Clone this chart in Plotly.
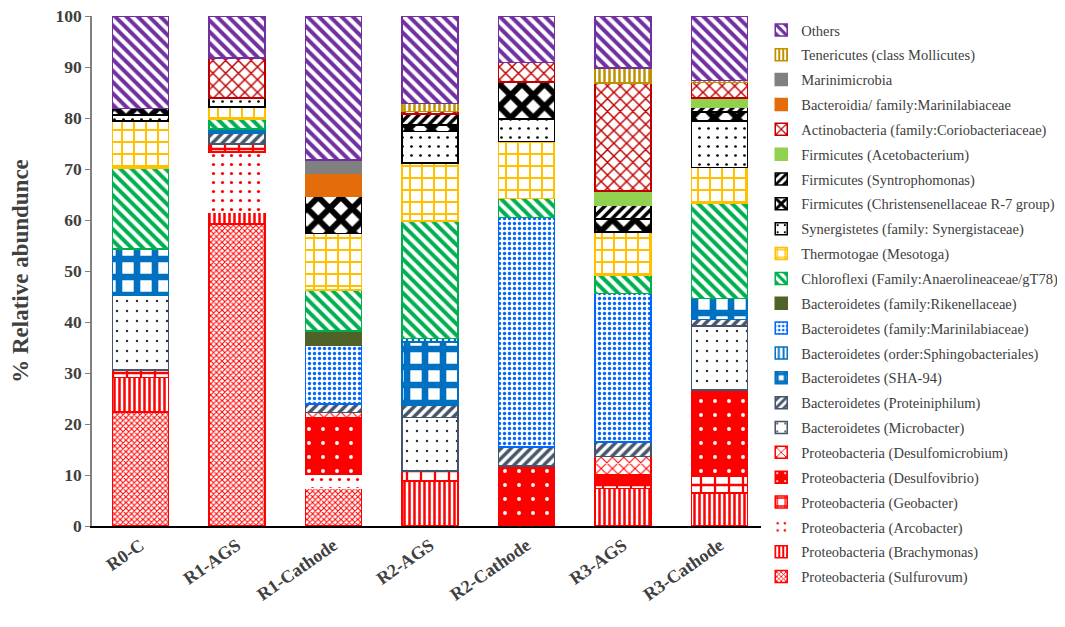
import plotly.graph_objects as go

samples = ["R0-C", "R1-AGS", "R1-Cathode", "R2-AGS", "R2-Cathode", "R3-AGS", "R3-Cathode"]

# segment sizes (% relative abundance), bottom of stack first
sulfurovum        = [22.4, 59.2, 7.4, None, None, None, None]
brachymonas       = [6.7, 2.3, None, 8.8, None, 7.4, 6.5]
arcobacter        = [None, 11.8, 2.7, None, None, None, None]
geobacter         = [1.5, 1.6, None, 2.0, None, 1.0, 3.3]
desulfovibrio     = [None, None, 11.2, None, 11.8, 1.7, 16.9]
desulfomicrobium  = [None, None, 1.0, None, None, 3.5, None]
microbacter       = [14.6, None, None, 10.5, None, None, 12.5]
proteiniphilum    = [None, 2.2, 1.6, 2.4, 3.7, 2.9, 1.3]
sha94             = [9.1, 0.7, None, 12.4, None, None, 4.1]
sphingobacteriales= [None, None, None, 0.7, None, None, None]
marinilabiaceae   = [None, None, 11.6, None, 45.0, 29.1, None]
rikenellaceae     = [None, None, 2.7, None, None, None, None]
chloroflexi       = [15.9, 2.0, 8.1, 23.0, 3.7, 3.6, 18.6]
thermotogae       = [9.2, 2.4, 11.1, 11.4, 11.2, 8.4, 7.1]
synergistetes     = [1.2, 1.7, None, 6.2, 4.4, None, 9.1]
christensenella   = [1.3, None, 7.3, 1.2, 7.3, 2.6, 1.8]
syntrophomonas    = [None, None, None, 2.2, None, 2.7, 0.9]
acetobacterium    = [None, None, None, None, None, 2.8, 1.8]
actinobacteria    = [None, 7.9, None, 0.5, 3.8, 21.2, 3.1]
bacteroidia       = [None, None, 4.5, None, None, None, None]
marinimicrobia    = [None, None, 2.6, None, None, None, None]
tenericutes       = [None, None, None, 1.5, None, 2.9, 0.4]
others            = [18.1, 8.2, 28.2, 17.2, 9.1, 10.2, 12.6]

y_ticks = [0, 10, 20, 30, 40, 50, 60, 70, 80, 90, 100]

# name, values, bg colour, fg colour, pattern shape, line colour, pattern size, solidity
series = [
    ("Proteobacteria (Sulfurovum)", sulfurovum, "white", "#FF0000", "x", "#FF0000", 4, 0.45),
    ("Proteobacteria (Brachymonas)", brachymonas, "white", "#FF0000", "|", "#FF0000", 5, 0.5),
    ("Proteobacteria (Arcobacter)", arcobacter, "white", "#FF0000", ".", "#FFFFFF", 9, 0.1),
    ("Proteobacteria (Geobacter)", geobacter, "white", "#FF0000", "+", "#FF0000", 14, 0.3),
    ("Proteobacteria (Desulfovibrio)", desulfovibrio, "#FF0000", "#FFFFFF", ".", "#FF0000", 14, 0.06),
    ("Proteobacteria (Desulfomicrobium)", desulfomicrobium, "white", "#FF0000", "x", "#FF0000", 8, 0.25),
    ("Bacteroidetes (Microbacter)", microbacter, "white", "#333333", ".", "#44546A", 10, 0.05),
    ("Bacteroidetes (Proteiniphilum)", proteiniphilum, "white", "#44546A", "/", "#44546A", 7, 0.5),
    ("Bacteroidetes (SHA-94)", sha94, "white", "#0070C0", "+", "#0070C0", 18, 0.6),
    ("Bacteroidetes (order:Sphingobacteriales)", sphingobacteriales, "white", "#0070C0", "|", "#0070C0", 6, 0.4),
    ("Bacteroidetes (family:Marinilabiaceae)", marinilabiaceae, "white", "#0066FF", ".", "#0066FF", 5, 0.35),
    ("Bacteroidetes (family:Rikenellaceae)", rikenellaceae, "#4F6228", "#4F6228", "", "#4F6228", 8, 0.3),
    ("Chloroflexi (Family:Anaerolineaceae/gT78)", chloroflexi, "white", "#00B050", "\\", "#00B050", 8, 0.5),
    ("Thermotogae (Mesotoga)", thermotogae, "white", "#FFC000", "+", "#FFC000", 12, 0.3),
    ("Synergistetes (family: Synergistaceae)", synergistetes, "white", "#000000", ".", "#000000", 9, 0.07),
    ("Firmicutes (Christensenellaceae R-7 group)", christensenella, "white", "#000000", "x", "#000000", 16, 0.6),
    ("Firmicutes (Syntrophomonas)", syntrophomonas, "white", "#000000", "/", "#000000", 7, 0.5),
    ("Firmicutes (Acetobacterium)", acetobacterium, "#92D050", "#92D050", "", "#92D050", 8, 0.3),
    ("Actinobacteria (family:Coriobacteriaceae)", actinobacteria, "white", "#C00000", "x", "#C00000", 9, 0.3),
    ("Bacteroidia/ family:Marinilabiaceae", bacteroidia, "#E46C0A", "#E46C0A", "", "#E46C0A", 8, 0.3),
    ("Marinimicrobia", marinimicrobia, "#808080", "#808080", "", "#808080", 8, 0.3),
    ("Tenericutes (class Mollicutes)", tenericutes, "white", "#BF9000", "|", "#BF9000", 5, 0.5),
    ("Others", others, "white", "#7030A0", "\\", "#7030A0", 8, 0.5),
]

fig = go.Figure()
n = len(series)
for i, (name, vals, bg, fg, shape, lc, sz, sol) in enumerate(series):
    fig.add_trace(go.Bar(
        name=name, x=samples, y=vals, legendgroup=name, legendrank=n - i,
        marker=dict(
            color=bg,
            line=dict(color=lc, width=1.5),
            pattern=dict(shape=shape, fgcolor=fg, bgcolor=bg, fillmode="overlay",
                         fgopacity=1, size=sz, solidity=sol),
        ),
    ))

serif = "Liberation Serif"
fig.update_layout(
    barmode="stack",
    bargap=0.42,
    width=1057, height=619,
    margin=dict(l=84, r=297, t=8, b=101, autoexpand=False),
    paper_bgcolor="white", plot_bgcolor="white",
    font=dict(family=serif, color="#404040"),
    legend=dict(
        x=0.99, y=1.004, xanchor="left", yanchor="top",
        traceorder="grouped", tracegroupgap=3.0,
        font=dict(family=serif, size=14.5, color="#404040"),
        itemwidth=30, maxheight=615,
    ),
    showlegend=True,
)
fig.update_yaxes(
    range=[0, 100], tickvals=y_ticks, ticks="outside", ticklen=5,
    tickcolor="#808080", showline=True, linecolor="#808080", linewidth=1.5,
    showgrid=False, zeroline=False, automargin=False, ticklabeloverflow="allow",
    tickfont=dict(family=serif, size=17.5, color="#404040", weight="bold"),
    title=dict(text="% Relative abundunce", standoff=28,
               font=dict(family=serif, size=23, color="#404040", weight="bold")),
)
fig.update_xaxes(
    showline=True, linecolor="#000000", linewidth=2, showgrid=False,
    tickangle=-35, ticks="", automargin=False, ticklabeloverflow="allow",
    tickfont=dict(family=serif, size=18, color="#404040", weight="bold"),
)
fig.write_html("out.html")
